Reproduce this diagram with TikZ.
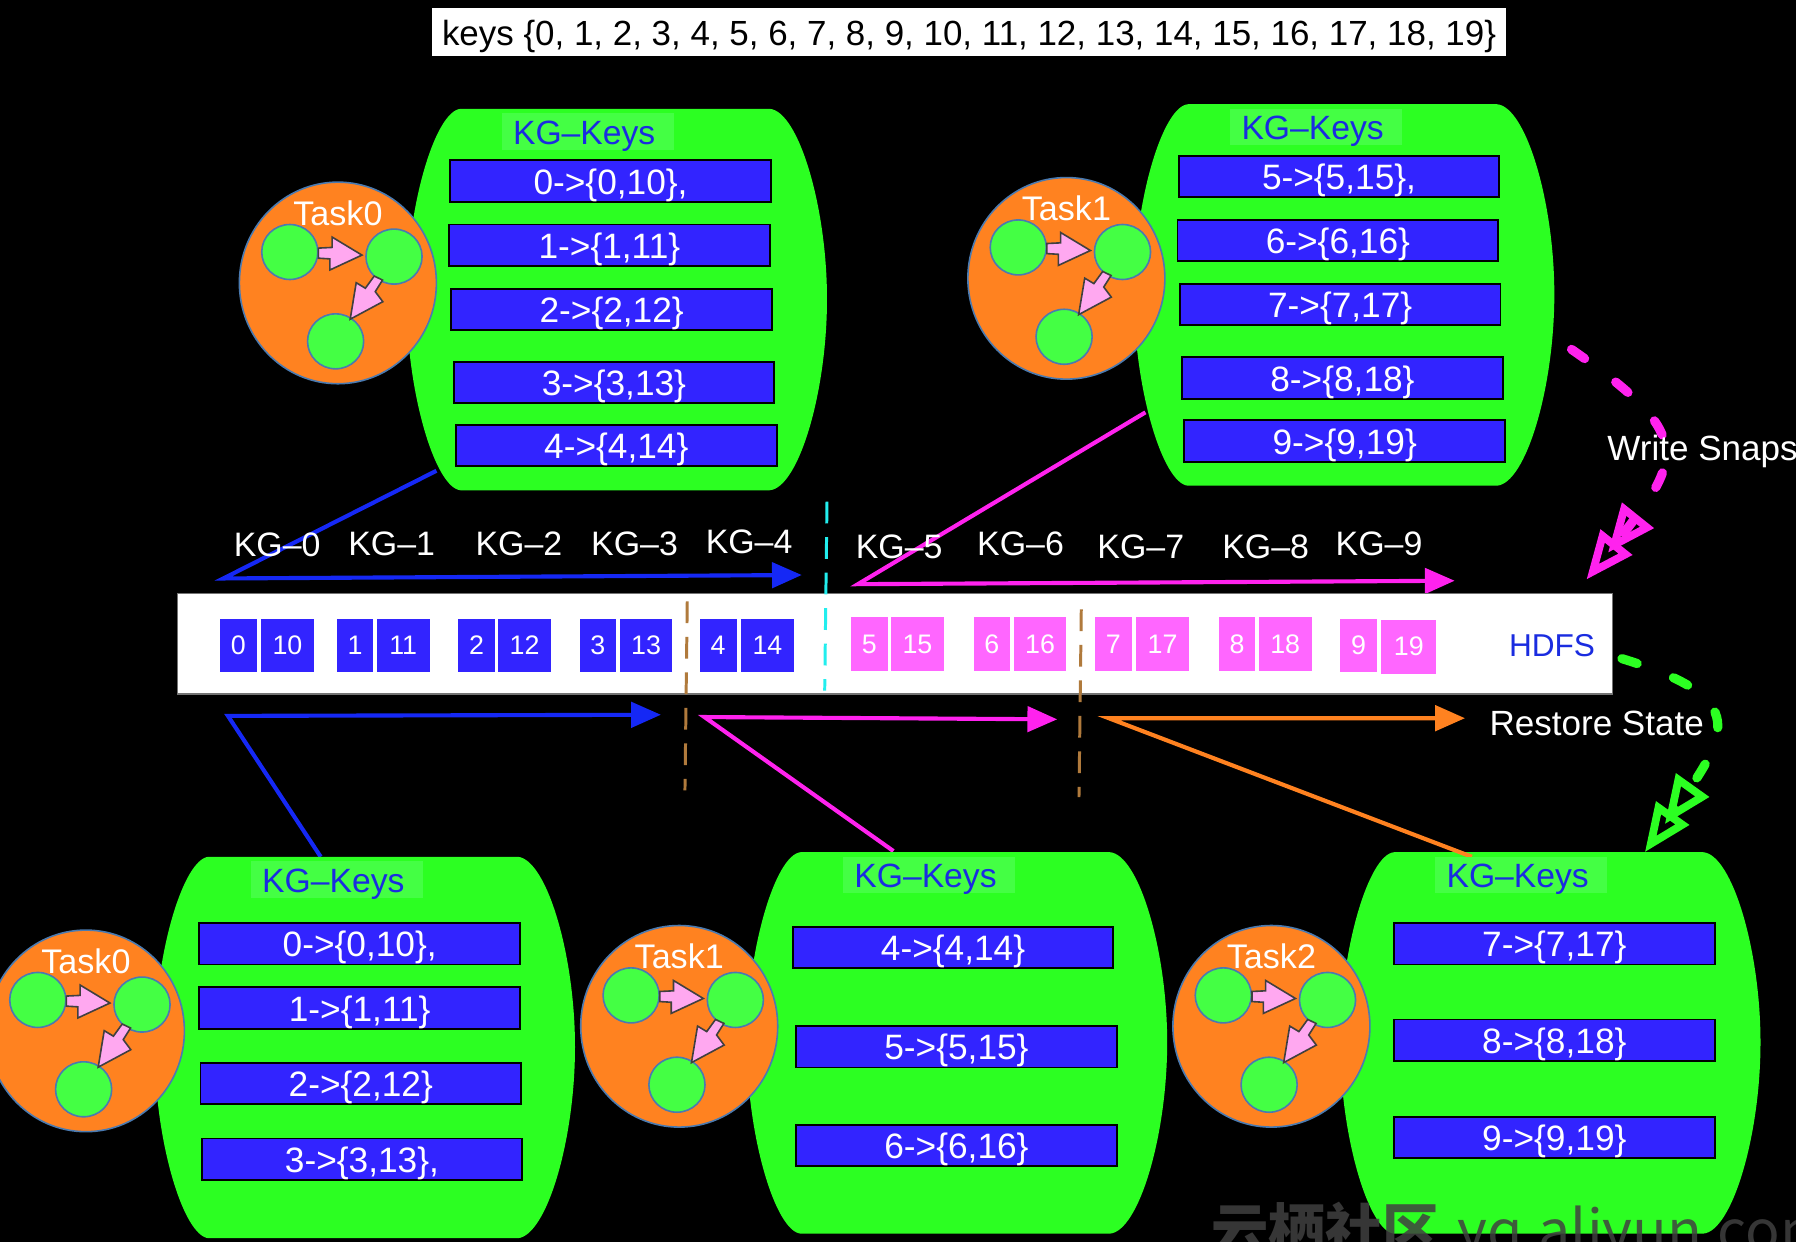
\documentclass[tikz,border=0pt]{standalone}
\usepackage{fontspec}
\setmainfont{Liberation Sans}
\newfontfamily\cjkwm{Noto Sans CJK SC}
\usetikzlibrary{arrows.meta,calc,shapes.geometric}
\definecolor{blobgreen}{HTML}{2CFF22}
\definecolor{lightgreen}{HTML}{44FF44}
\definecolor{barblue}{HTML}{3224FF}
\definecolor{lineblue}{HTML}{1528F5}
\definecolor{keyblue}{HTML}{1A2CE0}
\definecolor{linemag}{HTML}{FF22EE}
\definecolor{cellpink}{HTML}{FF66FF}
\definecolor{lineorange}{HTML}{FF8220}
\definecolor{edgeblue}{HTML}{4A7AB0}
\definecolor{arrowpink}{HTML}{FFA8F0}
\definecolor{sepcyan}{HTML}{22EEEE}
\definecolor{sepbrown}{HTML}{B07A3C}
\tikzset{
  x=.5pt,y=-.5pt,
  kvbar/.style={draw=black,line width=.8pt,fill=barblue,text=white,font=\fontsize{15.4}{16}\selectfont,
    minimum width=140pt,minimum height=18pt,inner sep=0pt},
  kgkeys/.style={fill=lightgreen,text=keyblue,font=\fontsize{14.7}{16}\selectfont,
    minimum width=75pt,minimum height=16pt,inner sep=0pt},
  cellbox/.style={text=white,font=\fontsize{11.7}{13}\selectfont,
    minimum height=23.5pt,inner sep=0pt},
  kglabel/.style={text=white,font=\fontsize{14.8}{16}\selectfont,inner sep=0pt},
  plainlabel/.style={text=white,font=\fontsize{15.3}{17}\selectfont,inner sep=0pt},
  disc/.style={draw=edgeblue,line width=.7pt,fill=lineorange,ellipse},
  dot/.style={draw=edgeblue,line width=.7pt,fill=lightgreen},
  blockarrow/.style={draw=black!75,line width=.7pt,fill=arrowpink,line join=miter},
  link/.style={line width=1.8pt,line join=miter,-{Triangle[length=13pt,width=11pt]}},
  sepline/.style={line width=1.3pt,dash pattern=on 9.5pt off 6pt},
  flowdash/.style={line width=4pt,line cap=round,dash pattern=on 7pt off 17pt,
    -{Triangle[open,length=21pt,width=17pt,line width=3.4pt,sep=-6pt]Triangle[open,length=21pt,width=17pt,line width=3.4pt]}},
}
\newcommand{\blobshape}[3]{%
  \fill[blobgreen,shift={(#2,#3)}] (47,0) -- (317,0)
     .. controls (342,2) and (367,85) .. (367,166)
     .. controls (367,248) and (342,331) .. (317,333) -- (47,333)
     .. controls (25,331) and (0,248) .. (0,166)
     .. controls (0,85) and (25,2) .. (47,0) -- cycle;
  \coordinate (#1) at ({#2+183.5},{#3+166.5});}
\newcommand{\kgkeyslabel}[3]{\node[kgkeys] (#1) at (#2,#3) {\hspace{-3pt}\raisebox{-2pt}[\height][\depth]{KG–Keys}};}
\newcommand{\kv}[4]{\node[kvbar] (#1) at ({#2+140},{#3+18}) {\raisebox{-1.7pt}[\height][\depth]{#4}};}
\newcommand{\taskdisc}[4]{%
  \begin{scope}[shift={(#2,#3)}]
    \node[disc,minimum width=86pt,minimum height=88pt,inner sep=0pt] (#1) at (0,0) {};
    \node[text=white,font=\fontsize{14.9}{16}\selectfont,inner sep=0pt] (#1t) at (0,-61) {#4};
    \fill[dot,draw] (-42,-27) ellipse [x radius=24.5,y radius=24];
    \fill[dot,draw] (49,-23) ellipse [x radius=24.5,y radius=24];
    \fill[dot,draw] (-2,51) ellipse [x radius=24.5,y radius=24];
    \draw[blockarrow] (-17,-30.4) -- (-5,-31) -- (-5,-40) -- (21,-24.3) -- (-7,-11.3) -- (-7,-21) -- (-17,-21.6) -- cycle;
    \draw[blockarrow] (31.7,-6) -- (39,-2.5) -- (32.6,7.6) -- (39.2,16.4) -- (10.7,31.7) -- (16,-.2) -- (24,4.6) -- cycle;
  \end{scope}}
\newcommand{\cell}[6]{%
  \pgfmathsetmacro\cellw{(#3-#2)*.5}%
  \node[cellbox,fill=#5,minimum width=\cellw pt] (#1) at ({(#2+#3)/2},#4) {#6};}
\begin{document}
\begin{tikzpicture}
\useasboundingbox (0,0) rectangle (1568,1084);
\clip (0,0) rectangle (1568,1084);
\fill[black] (0,0) rectangle (1568,1084);

% top caption
\node[fill=white,text=black,font=\fontsize{15.25}{17}\selectfont,minimum width=469pt,minimum height=21pt,inner sep=0pt] (keys) at (846,28)
  {\raisebox{-2pt}[\height][\depth]{keys \{0, 1, 2, 3, 4, 5, 6, 7, 8, 9, 10, 11, 12, 13, 14, 15, 16, 17, 18, 19\}}};

% key-group connectors
\coordinate (uba) at (381,411);
\coordinate (ubb) at (195,505);
\coordinate (ubc) at (700,502);
\coordinate (uma) at (1000,360);
\coordinate (umb) at (749,510);
\coordinate (umc) at (1270,507);
\coordinate (lba) at (280,748);
\coordinate (lbb) at (199,625);
\coordinate (lbc) at (577,624);
\coordinate (lma) at (780,743);
\coordinate (lmb) at (615,626);
\coordinate (lmc) at (923,628);
\coordinate (loa) at (1285,748);
\coordinate (lob) at (968,627);
\coordinate (loc) at (1279,627);
\draw[link,draw=lineblue] (uba) -- (ubb) -- (ubc);
\draw[link,draw=linemag] (uma) -- (umb) -- (umc);
\draw[link,draw=lineblue] (lba) -- (lbb) -- (lbc);
\draw[link,draw=linemag] (lma) -- (lmb) -- (lmc);

% blobs
\blobshape{ba}{355}{95}
\blobshape{bb}{990}{91}
\blobshape{bc}{135}{748}
\blobshape{bd}{652}{744}
\blobshape{be}{1170}{744}
\draw[link,draw=lineorange] (loa) -- (lob) -- (loc);

% key-group labels
\kgkeyslabel{ka}{513}{115}
\kgkeyslabel{kb}{1149}{111}
\kgkeyslabel{kc}{294}{768}
\kgkeyslabel{kd}{811}{764}
\kgkeyslabel{ke}{1328}{764}

% bars
\kv{a0}{393}{140}{0->\{0,10\},}
\kv{a1}{392}{196}{1->\{1,11\}}
\kv{a2}{394}{252}{2->\{2,12\}}
\kv{a3}{396}{316}{3->\{3,13\}}
\kv{a4}{398}{371}{4->\{4,14\}}
\kv{b5}{1029}{136}{5->\{5,15\},}
\kv{b6}{1028}{192}{6->\{6,16\}}
\kv{b7}{1030}{248}{7->\{7,17\}}
\kv{b8}{1032}{312}{8->\{8,18\}}
\kv{b9}{1034}{367}{9->\{9,19\}}
\kv{c0}{174}{806}{0->\{0,10\},}
\kv{c1}{174}{862}{1->\{1,11\}}
\kv{c2}{175}{928}{2->\{2,12\}}
\kv{c3}{176}{994}{3->\{3,13\},}
\kv{d4}{692}{809}{4->\{4,14\}}
\kv{d5}{695}{896}{5->\{5,15\}}
\kv{d6}{695}{982}{6->\{6,16\}}
\kv{e7}{1217}{806}{7->\{7,17\}}
\kv{e8}{1217}{890}{8->\{8,18\}}
\kv{e9}{1217}{975}{9->\{9,19\}}

% tasks
\taskdisc{ta}{295}{247}{Task0}
\taskdisc{tb}{931}{243}{Task1}
\taskdisc{tc}{75}{900}{Task0}
\taskdisc{td}{593}{896}{Task1}
\taskdisc{te}{1110}{896}{Task2}

% HDFS strip
\node[draw=black!55,line width=.6pt,fill=white,minimum width=626.5pt,minimum height=44pt,inner sep=0pt] (strip) at (781.5,562) {};
\node[text=keyblue,font=\fontsize{13.8}{15}\selectfont,inner sep=0pt] (hdfs) at (1355,564) {HDFS};
\cell{c0a}{192}{224}{563.5}{barblue}{0}
\cell{c0b}{228}{274}{563.5}{barblue}{10}
\cell{c1a}{294}{326}{563.5}{barblue}{1}
\cell{c1b}{329}{375}{563.5}{barblue}{11}
\cell{c2a}{400}{432}{563.5}{barblue}{2}
\cell{c2b}{435}{481}{563.5}{barblue}{12}
\cell{c3a}{506}{538}{563.5}{barblue}{3}
\cell{c3b}{541}{587}{563.5}{barblue}{13}
\cell{c4a}{611}{643}{563.5}{barblue}{4}
\cell{c4b}{647}{693}{563.5}{barblue}{14}
\cell{c5a}{743}{775}{562.5}{cellpink}{5}
\cell{c5b}{778}{824}{562.5}{cellpink}{15}
\cell{c6a}{850}{882}{562.5}{cellpink}{6}
\cell{c6b}{885}{931}{562.5}{cellpink}{16}
\cell{c7a}{956}{988}{562.5}{cellpink}{7}
\cell{c7b}{992}{1038}{562.5}{cellpink}{17}
\cell{c8a}{1064}{1096}{562.5}{cellpink}{8}
\cell{c8b}{1099}{1145}{562.5}{cellpink}{18}
\cell{c9a}{1170}{1202}{563.5}{cellpink}{9}
\cell{c9b}{1206}{1254}{564.5}{cellpink}{19}

% separators
\coordinate (cya) at (722,438);
\coordinate (cyb) at (720,603);
\coordinate (bra) at (600,525);
\coordinate (brb) at (598,690);
\coordinate (brc) at (944,532);
\coordinate (brd) at (942,696);
\draw[sepline,draw=sepcyan] (cya) -- (cyb);
\draw[sepline,draw=sepbrown] (bra) -- (brb);
\draw[sepline,draw=sepbrown] (brc) -- (brd);

% snapshot / restore flows
\coordinate (wsa) at (1372,305);
\coordinate (wsb) at (1385,506);
\coordinate (rsa) at (1416,575);
\coordinate (rsb) at (1436,744);
\draw[flowdash,draw=linemag] (wsa) .. controls (1480,380) and (1470,400) .. (wsb);
\draw[flowdash,draw=blobgreen] (rsa) .. controls (1530,610) and (1510,640) .. (rsb);

% labels
\node[kglabel] (k0) at (242,476) {KG–0};
\node[kglabel] (k1) at (342,475) {KG–1};
\node[kglabel] (k2) at (453,475) {KG–2};
\node[kglabel] (k3) at (554,475) {KG–3};
\node[kglabel] (k4) at (654,473) {KG–4};
\node[kglabel] (k5) at (785,477) {KG–5};
\node[kglabel] (k6) at (891,475) {KG–6};
\node[kglabel] (k7) at (996,477) {KG–7};
\node[kglabel] (k8) at (1105,477) {KG–8};
\node[kglabel] (k9) at (1204,475) {KG–9};
\node[plainlabel,anchor=west] (write) at (1403,394) {Write Snapshot};
\node[plainlabel] (restore) at (1394,632) {Restore State};

% watermark
\node[anchor=base west,inner sep=0pt,text=black!75,opacity=.85,font=\cjkwm\fontsize{25}{27}\selectfont] (wm) at (1057,1093) {\textbf{云栖社区}\hspace{.3em}yq.aliyun.com};
\end{tikzpicture}
\end{document}
